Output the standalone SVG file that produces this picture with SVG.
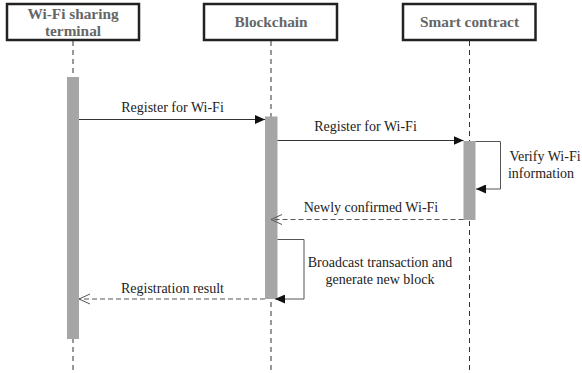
<svg xmlns="http://www.w3.org/2000/svg" width="582" height="373" viewBox="0 0 582 373">
<style>
.box{fill:#fff;stroke:#222;stroke-width:2.5}
.hd{font-family:"Liberation Serif",serif;font-weight:bold;font-size:15.3px;fill:#666;text-anchor:middle}
.life{stroke:#333;stroke-width:1;stroke-dasharray:5,4;fill:none}
.bar{fill:#a6a6a6}
.msg{stroke:#333;stroke-width:1;fill:none}
.self{stroke:#555;stroke-width:1;fill:none}
.ret{stroke:#555;stroke-width:1;stroke-dasharray:5,3;fill:none}
.lbl{font-family:"Liberation Serif",serif;font-size:14px;fill:#222;text-anchor:middle}
</style>
<defs>
<marker id="fill" markerWidth="11" markerHeight="9" refX="10" refY="4.5" orient="auto" markerUnits="userSpaceOnUse">
<path d="M0,0 L10,4.5 L0,9 Z" fill="#111"/>
</marker>
<marker id="open" markerWidth="12" markerHeight="12" refX="11" refY="6" orient="auto" markerUnits="userSpaceOnUse">
<path d="M0,1 L11,6 L0,11" fill="none" stroke="#555" stroke-width="1"/>
</marker>
</defs>
<rect width="582" height="373" fill="#fff"/>
<g id="lifelines">
<line class="life" x1="73" y1="41" x2="73" y2="372"/>
<line class="life" x1="271" y1="41" x2="271" y2="372"/>
<line class="life" x1="469.5" y1="41" x2="469.5" y2="372"/>
</g>
<g id="node-terminal">
<rect class="box" x="7" y="4" width="132" height="36"/>
<text class="hd" x="73" y="18.5">Wi-Fi sharing</text>
<text class="hd" x="73" y="35.5">terminal</text>
<rect class="bar" x="67" y="77" width="12" height="262"/>
</g>
<g id="node-blockchain">
<rect class="box" x="204" y="4" width="133" height="36"/>
<text class="hd" x="271" y="27">Blockchain</text>
<rect class="bar" x="265" y="116.5" width="12.5" height="182.5"/>
</g>
<g id="node-contract">
<rect class="box" x="403" y="4" width="132.5" height="36"/>
<text class="hd" x="469.5" y="27">Smart contract</text>
<rect class="bar" x="463.5" y="141" width="12" height="79"/>
</g>
<g id="connectors">
<line class="msg" x1="79" y1="119.5" x2="265" y2="119.5" marker-end="url(#fill)"/>
<line class="msg" x1="277.5" y1="140.5" x2="463.5" y2="140.5" marker-end="url(#fill)"/>
<polyline class="self" points="475.5,141.5 500.5,141.5 500.5,189 476,189" marker-end="url(#fill)"/>
<line class="ret" x1="463.5" y1="219.5" x2="271" y2="219.5" marker-end="url(#open)"/>
<polyline class="self" points="277.5,239.5 304,239.5 304,299 275,299" marker-end="url(#fill)"/>
<line class="ret" x1="265" y1="299" x2="79" y2="299" marker-end="url(#open)"/>
</g>
<g id="labels">
<text class="lbl" x="172.5" y="112">Register for Wi-Fi</text>
<text class="lbl" x="365.5" y="131">Register for Wi-Fi</text>
<text class="lbl" x="545" y="161">Verify Wi-Fi</text>
<text class="lbl" x="541" y="178">information</text>
<text class="lbl" x="371" y="212">Newly confirmed Wi-Fi</text>
<text class="lbl" x="380" y="266.5">Broadcast transaction and</text>
<text class="lbl" x="380" y="284">generate new block</text>
<text class="lbl" x="172.5" y="292.5">Registration result</text>
</g>
</svg>
